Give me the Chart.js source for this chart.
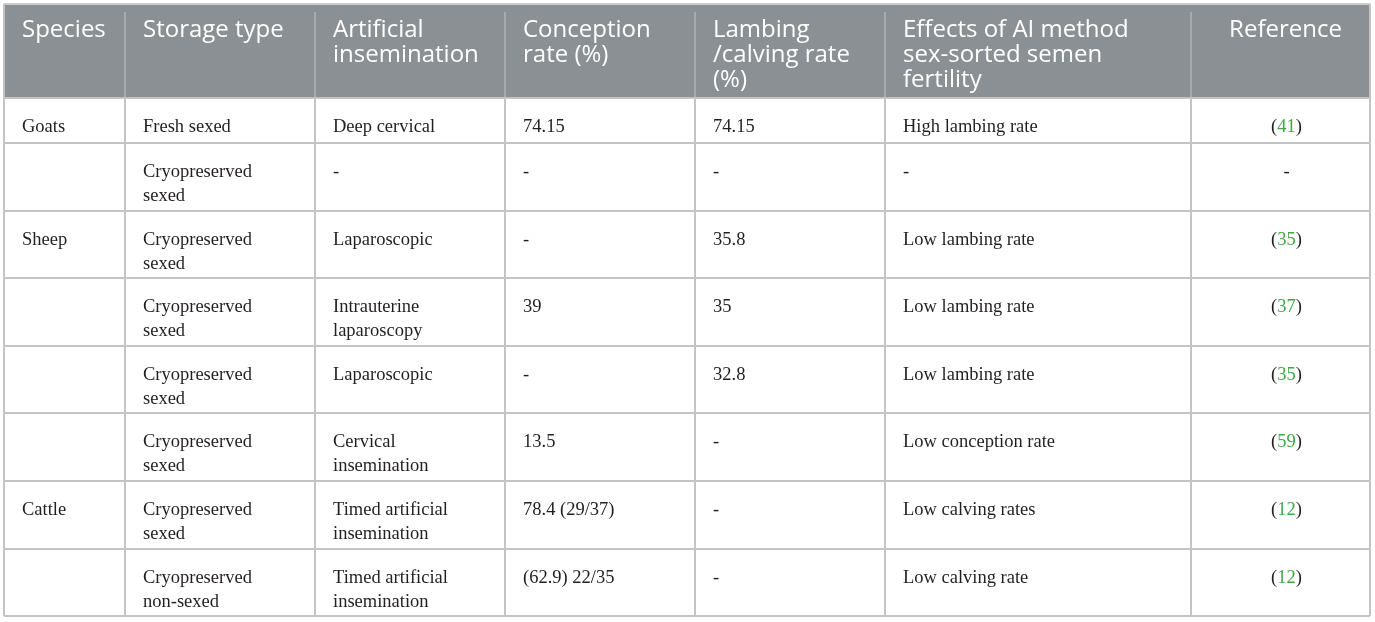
<!DOCTYPE html>
<html>
<head>
<meta charset="utf-8">
<script src="https://cdn.jsdelivr.net/npm/chart.js@4"></script>
<style>
  html, body { margin: 0; padding: 0; background: #ffffff; }
  #wrap { position: relative; width: 1375px; height: 622px; }
</style>
</head>
<body>
<div id="wrap"><canvas id="c"></canvas></div>
<script>
// ---- table content ----
const headers = [
  ["Species"],
  ["Storage type"],
  ["Artificial", "insemination"],
  ["Conception", "rate (%)"],
  ["Lambing", "/calving rate", "(%)"],
  ["Effects of AI method", "sex-sorted semen", "fertility"],
  ["Reference"]
];
const species = ["Goats", "", "Sheep", "", "", "", "Cattle", ""];
const storageType = [
  ["Fresh sexed"], ["Cryopreserved", "sexed"], ["Cryopreserved", "sexed"], ["Cryopreserved", "sexed"],
  ["Cryopreserved", "sexed"], ["Cryopreserved", "sexed"], ["Cryopreserved", "sexed"], ["Cryopreserved", "non-sexed"]
];
const aiMethod = [
  ["Deep cervical"], ["-"], ["Laparoscopic"], ["Intrauterine", "laparoscopy"],
  ["Laparoscopic"], ["Cervical", "insemination"], ["Timed artificial", "insemination"], ["Timed artificial", "insemination"]
];
const conceptionRate = ["74.15", "-", "-", "39", "-", "13.5", "78.4 (29/37)", "(62.9) 22/35"];
const lambingRate = ["74.15", "-", "35.8", "35", "32.8", "-", "-", "-"];
const effects = [
  "High lambing rate", "-", "Low lambing rate", "Low lambing rate", "Low lambing rate",
  "Low conception rate", "Low calving rates", "Low calving rate"
];
const references = ["41", "-", "35", "37", "35", "59", "12", "12"];

// ---- layout (scale units) ----
const colEdges = [4, 125, 315, 505, 695, 885, 1191, 1370];
const rowEdges = [4, 98, 143, 211, 278, 346, 413, 481, 549, 616];

const tablePlugin = {
  id: 'tablePlugin',
  afterDraw(chart) {
    const ctx = chart.ctx;
    const xs = chart.scales.x, ys = chart.scales.y;
    const X = v => xs.getPixelForValue(v);
    const Y = v => ys.getPixelForValue(v);
    const left = X(colEdges[0]), right = X(colEdges[colEdges.length - 1]);
    const top = Y(rowEdges[0]), bottom = Y(rowEdges[rowEdges.length - 1]);
    const hb = Y(rowEdges[1]);
    ctx.save();
    // header background
    ctx.fillStyle = '#8a9094';
    ctx.fillRect(left, top + 1, right - left, hb - top - 1);
    // top line
    ctx.strokeStyle = '#c9cbcc';
    ctx.lineWidth = 2;
    ctx.beginPath(); ctx.moveTo(left, top); ctx.lineTo(right, top); ctx.stroke();
    // header vertical separators
    ctx.strokeStyle = '#a6aaad';
    ctx.lineWidth = 2;
    for (let i = 1; i < colEdges.length - 1; i++) {
      ctx.beginPath(); ctx.moveTo(X(colEdges[i]), top + 8); ctx.lineTo(X(colEdges[i]), hb); ctx.stroke();
    }
    // body grid
    ctx.strokeStyle = '#c4c4c4';
    ctx.lineWidth = 2;
    for (let r = 1; r < rowEdges.length; r++) {
      ctx.beginPath(); ctx.moveTo(left, Y(rowEdges[r])); ctx.lineTo(right, Y(rowEdges[r])); ctx.stroke();
    }
    for (let i = 0; i < colEdges.length; i++) {
      const y0 = (i === 0 || i === colEdges.length - 1) ? top : hb;
      ctx.beginPath(); ctx.moveTo(X(colEdges[i]), y0); ctx.lineTo(X(colEdges[i]), bottom); ctx.stroke();
    }
    // header text
    ctx.fillStyle = '#ffffff';
    ctx.font = '24px "Open Sans", "Noto Sans", sans-serif';
    ctx.textBaseline = 'alphabetic';
    headers.forEach((lines, c) => {
      lines.forEach((t, k) => {
        const by = Y(rowEdges[0]) + 33 + k * 25;
        if (c === headers.length - 1) {
          ctx.textAlign = 'center';
          ctx.fillText(t, (X(colEdges[c]) + X(colEdges[c + 1])) / 2 + 5, by);
        } else {
          ctx.textAlign = 'left';
          ctx.fillText(t, X(colEdges[c]) + 18, by);
        }
      });
    });
    // body text
    ctx.font = '18.5px "Liberation Serif", "DejaVu Serif", serif';
    ctx.fillStyle = '#231f20';
    const cols = [
      species.map(s => [s]), storageType, aiMethod,
      conceptionRate.map(s => [s]), lambingRate.map(s => [s]), effects.map(s => [s])
    ];
    for (let r = 0; r < species.length; r++) {
      const rt = Y(rowEdges[r + 1]);
      cols.forEach((col, c) => {
        ctx.textAlign = 'left';
        col[r].forEach((t, k) => {
          ctx.fillText(t, X(colEdges[c]) + 18, rt + 33.5 + k * 24);
        });
      });
      // reference column (centered, green number in parentheses)
      const cx = (X(colEdges[6]) + X(colEdges[7])) / 2 + 6;
      const by = rt + 33.5;
      const ref = references[r];
      ctx.textAlign = 'left';
      if (ref === '-') {
        const w = ctx.measureText('-').width;
        ctx.fillStyle = '#231f20';
        ctx.fillText('-', cx - w / 2, by);
      } else {
        const wo = ctx.measureText('(').width, wn = ctx.measureText(ref).width, wc = ctx.measureText(')').width;
        let x0 = cx - (wo + wn + wc) / 2;
        ctx.fillStyle = '#231f20'; ctx.fillText('(', x0, by);
        ctx.fillStyle = '#3fa845'; ctx.fillText(ref, x0 + wo, by);
        ctx.fillStyle = '#231f20'; ctx.fillText(')', x0 + wo + wn, by);
      }
      ctx.fillStyle = '#231f20';
    }
    ctx.restore();
  }
};

new Chart(document.getElementById('c'), {
  type: 'scatter',
  data: { datasets: [{ data: [], pointRadius: 0 }] },
  options: {
    responsive: true,
    maintainAspectRatio: false,
    animation: false,
    layout: { padding: 0 },
    plugins: { legend: { display: false }, tooltip: { enabled: false } },
    scales: {
      x: { type: 'linear', min: 0, max: 1375, display: false },
      y: { type: 'linear', min: 0, max: 622, reverse: true, display: false }
    }
  },
  plugins: [tablePlugin]
});
</script>
</body>
</html>
